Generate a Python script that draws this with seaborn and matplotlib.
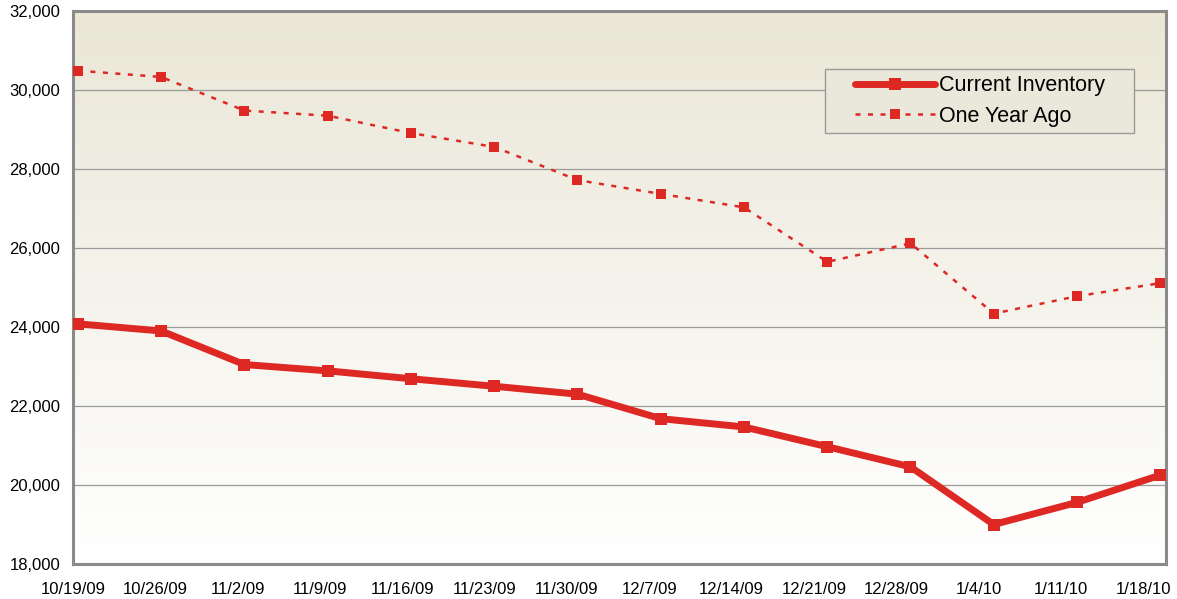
import numpy as np
import pandas as pd
import matplotlib
matplotlib.use("Agg")
import matplotlib.pyplot as plt
from matplotlib.patches import Rectangle
from matplotlib.transforms import ScaledTranslation
import seaborn as sns

dates = ["10/19/09", "10/26/09", "11/2/09", "11/9/09", "11/16/09", "11/23/09", "11/30/09",
         "12/7/09", "12/14/09", "12/21/09", "12/28/09", "1/4/10", "1/11/10", "1/18/10"]
current_inventory = [24080, 23900, 23050, 22890, 22690, 22500, 22300,
                     21680, 21470, 20970, 20460, 19000, 19560, 20250]
one_year_ago = [30490, 30330, 29480, 29350, 28910, 28560, 27720,
                27370, 27030, 25650, 26120, 24340, 24780, 25110]
y_ticks = [18000, 20000, 22000, 24000, 26000, 28000, 30000, 32000]

sns.set_theme(style="white")
plt.rcParams['font.family'] = ['Liberation Sans', 'DejaVu Sans']

df = pd.DataFrame({"pos": np.arange(len(dates)), "date": dates,
                   "Current Inventory": current_inventory, "One Year Ago": one_year_ago})

fig = plt.figure(figsize=(11.77, 5.99), dpi=100)
ax = fig.add_axes([0.062, 0.0584, 0.9287, 0.9232])

# gradient background
grad = np.linspace(0, 1, 256).reshape(-1, 1)
top = np.array([234, 231, 215]) / 255.0
bot = np.array([255, 255, 255]) / 255.0
img = top[None, None, :] * (1 - grad[:, :, None]) + bot[None, None, :] * grad[:, :, None]
ax.imshow(img, extent=[0, 1, 0, 1], transform=ax.transAxes, aspect='auto', zorder=0)

red = "#DD2823"
sns.lineplot(data=df, x="pos", y="Current Inventory", ax=ax, color=red, linewidth=5,
             marker="s", markersize=8, markeredgewidth=0, label="Current Inventory", zorder=3)
sns.lineplot(data=df, x="pos", y="One Year Ago", ax=ax, color=red, linewidth=1.8,
             linestyle=(0, (2, 3)), marker="s", markersize=6.5, markeredgewidth=0,
             label="One Year Ago", zorder=3)

ax.set_xlim(-0.06, 13.07)
ax.set_ylim(18000, 32000)
ax.set_yticks(y_ticks)
ax.set_yticklabels([f"{v:,}" for v in y_ticks], fontsize=12, color="black")
tick_pos = np.arange(len(dates)) * 0.989 - 0.06
ax.set_xticks(tick_pos)
ax.set_xticklabels(dates, fontsize=12, color="black")
shift = ScaledTranslation(4 / 100, 0, fig.dpi_scale_trans)
for lab in ax.get_xticklabels():
    lab.set_transform(lab.get_transform() + shift)
ax.set_xlabel("")
ax.set_ylabel("")
ax.yaxis.grid(True, color="#9a9a9a", linewidth=0.9)
ax.xaxis.grid(False)
ax.set_axisbelow(True)
for s in ax.spines.values():
    s.set_color("#8a8a8a")
    s.set_linewidth(2.2)
    s.set_visible(True)
ax.tick_params(axis="both", which="both", direction="out", length=5, width=1,
               color="#8a8a8a", labelcolor="black", pad=4)
ax.tick_params(axis="x", pad=8)

# legend box
box = Rectangle((0.688, 0.7794), 0.2827, 0.1157, transform=ax.transAxes,
                facecolor="#EAE8DA", edgecolor="#9a9a9a", linewidth=1, zorder=4)
ax.add_patch(box)
leg = ax.legend(loc="center left", bbox_to_anchor=(0.7155, 0.8373), fontsize=15.5,
                frameon=False, handlelength=3.7, borderpad=0,
                labelspacing=0.45, handletextpad=0.2, borderaxespad=0)
for t in leg.get_texts():
    t.set_color("black")
for h in leg.legend_handles:
    h.set_markersize(h.get_markersize() * 1.1)
leg.set_zorder(5)

fig.savefig("out.png", dpi=100)
